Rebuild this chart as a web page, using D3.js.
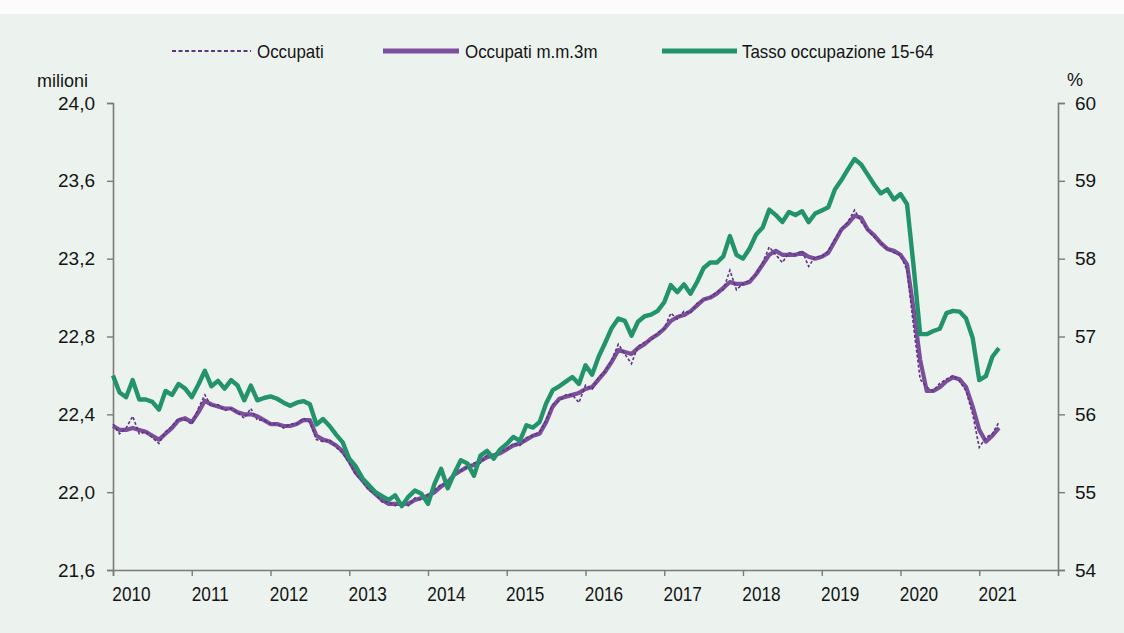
<!DOCTYPE html>
<html><head><meta charset="utf-8">
<script src="https://cdn.jsdelivr.net/npm/d3@7"></script>
<style>
body{margin:0;background:#ecf3ee}
svg{display:block}
text{font-family:"Liberation Sans",Arial,Helvetica,sans-serif;fill:#141414}
</style>
</head><body>
<svg id="c" width="1124" height="633"></svg>
<script>
// ---- data (monthly, Jan 2010 .. Apr 2021) ----
const yearLabels = ["2010","2011","2012","2013","2014","2015","2016","2017","2018","2019","2020","2021"];
const leftTicks = [21.6, 22.0, 22.4, 22.8, 23.2, 23.6, 24.0];
const rightTicks = [54, 55, 56, 57, 58, 59, 60];
const legendLabels = ["Occupati", "Occupati m.m.3m", "Tasso occupazione 15-64"];

const occupati = [
22.35,22.30,22.33,22.39,22.30,22.31,22.28,22.25,22.31,22.34,22.38,22.37,
22.35,22.43,22.50,22.44,22.45,22.42,22.43,22.41,22.38,22.43,22.37,22.37,
22.35,22.35,22.33,22.35,22.35,22.38,22.36,22.27,22.26,22.27,22.23,22.20,
22.15,22.09,22.06,22.01,21.99,21.95,21.95,21.93,21.95,21.93,21.97,21.96,
21.99,22.01,22.04,22.04,22.10,22.11,22.13,22.15,22.15,22.19,22.18,22.21,
22.22,22.25,22.24,22.28,22.29,22.31,22.37,22.45,22.47,22.50,22.50,22.46,
22.55,22.53,22.59,22.62,22.68,22.76,22.71,22.66,22.75,22.77,22.78,22.82,
22.84,22.92,22.89,22.93,22.92,22.97,22.99,23.00,23.03,23.04,23.14,23.04,
23.07,23.09,23.12,23.18,23.26,23.22,23.18,23.23,23.22,23.24,23.16,23.21,
23.21,23.24,23.30,23.35,23.39,23.45,23.39,23.35,23.31,23.28,23.25,23.23,
23.22,23.14,22.85,22.58,22.54,22.52,22.56,22.58,22.60,22.57,22.52,22.40,
22.23,22.28,22.30,22.36
];
const occupatiMM3 = [
22.34,22.32,22.32,22.33,22.32,22.31,22.29,22.27,22.30,22.33,22.37,22.38,
22.36,22.41,22.47,22.45,22.44,22.43,22.43,22.41,22.40,22.40,22.39,22.37,
22.35,22.35,22.34,22.34,22.35,22.37,22.37,22.29,22.27,22.26,22.24,22.21,
22.16,22.10,22.06,22.02,21.99,21.96,21.94,21.94,21.94,21.94,21.96,21.97,
21.98,22.00,22.03,22.05,22.09,22.11,22.13,22.14,22.16,22.18,22.19,22.20,
22.22,22.24,22.25,22.27,22.29,22.30,22.36,22.44,22.48,22.49,22.50,22.51,
22.53,22.54,22.58,22.62,22.67,22.73,22.72,22.71,22.74,22.76,22.79,22.81,
22.84,22.88,22.90,22.91,22.93,22.96,22.99,23.00,23.02,23.05,23.08,23.07,
23.07,23.08,23.12,23.17,23.22,23.24,23.22,23.22,23.22,23.23,23.21,23.20,
23.21,23.23,23.29,23.35,23.38,23.42,23.41,23.35,23.32,23.28,23.25,23.24,
23.22,23.17,22.94,22.68,22.52,22.52,22.54,22.57,22.59,22.58,22.54,22.44,
22.32,22.26,22.29,22.33
];
const tasso = [
56.50,56.28,56.22,56.44,56.19,56.19,56.16,56.06,56.30,56.25,56.39,56.33,
56.22,56.38,56.56,56.36,56.43,56.33,56.44,56.37,56.18,56.37,56.18,56.21,
56.23,56.20,56.15,56.11,56.15,56.17,56.13,55.87,55.94,55.85,55.74,55.64,
55.43,55.33,55.18,55.09,55.00,54.95,54.90,54.96,54.82,54.94,55.02,54.98,
54.85,55.11,55.30,55.05,55.24,55.41,55.37,55.21,55.47,55.53,55.43,55.55,
55.62,55.71,55.66,55.86,55.83,55.90,56.14,56.31,56.36,56.42,56.48,56.39,
56.63,56.51,56.74,56.92,57.11,57.23,57.20,57.01,57.19,57.26,57.28,57.33,
57.44,57.66,57.57,57.67,57.55,57.70,57.88,57.95,57.95,58.03,58.29,58.05,
58.00,58.13,58.31,58.40,58.63,58.56,58.47,58.60,58.56,58.61,58.47,58.58,
58.62,58.66,58.89,59.01,59.15,59.28,59.21,59.08,58.95,58.84,58.89,58.76,
58.83,58.70,57.90,57.03,57.03,57.07,57.10,57.30,57.33,57.32,57.23,56.98,
56.44,56.49,56.74,56.85
];

// ---- layout ----
const svg = d3.select("#c");
const W = 1124, H = 633;
const L = 113, R = 1058, T = 103, B = 570;
const regular = '"Liberation Sans", Arial, sans-serif';

svg.append("rect").attr("width", W).attr("height", H).attr("fill", "#ecf3ee");
svg.append("rect").attr("width", W).attr("height", 14).attr("fill", "#fbfcfb");

const x = d3.scaleLinear().domain([0, yearLabels.length * 12]).range([L, R]);
const yL = d3.scaleLinear().domain([leftTicks[0], leftTicks[leftTicks.length - 1]]).range([B, T]);
const yR = d3.scaleLinear().domain([rightTicks[0], rightTicks[rightTicks.length - 1]]).range([B, T]);

const itFmt = d3.formatLocale({decimal: ",", thousands: ".", grouping: [3], currency: ["", "€"]}).format(".1f");

// condense text horizontally (the original uses a narrow typeface)
function condense(sel, factor) {
  sel.each(function () {
    const w = this.getComputedTextLength();
    d3.select(this).attr("textLength", w * factor).attr("lengthAdjust", "spacingAndGlyphs");
  });
}

const axisColor = "#7a7a7a";
function styleAxis(g, size) {
  g.select(".domain").attr("stroke", axisColor).attr("stroke-width", 1.6);
  g.selectAll(".tick line").attr("stroke", axisColor).attr("stroke-width", 1.4);
  g.selectAll(".tick text").attr("font-size", size).attr("fill", "#141414").attr("font-family", regular);
}

svg.append("g").attr("transform", `translate(${L},0)`)
  .call(d3.axisLeft(yL).tickValues(leftTicks).tickFormat(itFmt).tickSizeOuter(0).tickSize(6).tickPadding(12))
  .call(styleAxis, 19);

svg.append("g").attr("transform", `translate(${R},0)`)
  .call(d3.axisRight(yR).tickValues(rightTicks).tickFormat(d3.format("d")).tickSizeOuter(0).tickSize(7).tickPadding(10))
  .call(styleAxis, 19);

const gx = svg.append("g").attr("transform", `translate(0,${B})`)
  .call(d3.axisBottom(x).tickValues(yearLabels.map((d, i) => i * 12))
    .tickFormat((d, i) => yearLabels[i]).tickSizeOuter(0).tickSize(6).tickPadding(10))
  .call(styleAxis, 21);
gx.selectAll(".tick text").attr("dx", 18).call(condense, 0.82);

svg.append("text").attr("x", 37).attr("y", 87).attr("font-size", 18).text("milioni");
svg.append("text").attr("x", 1067).attr("y", 86).attr("font-size", 18).text("%");

// ---- lines ----
const lineL = d3.line().x((d, i) => x(i)).y(d => yL(d));
const lineR = d3.line().x((d, i) => x(i)).y(d => yR(d));

const cMM3 = "#7b4f9b", cOcc = "#5e3580", cTasso = "#22936b";

svg.append("path").datum(occupatiMM3).attr("d", lineL)
  .attr("fill", "none").attr("stroke", cMM3).attr("stroke-width", 4.2).attr("stroke-linejoin", "round");
svg.append("path").datum(occupati).attr("d", lineL)
  .attr("fill", "none").attr("stroke", cOcc).attr("stroke-width", 1.6).attr("stroke-dasharray", "3,2");
svg.append("path").datum(tasso).attr("d", lineR)
  .attr("fill", "none").attr("stroke", cTasso).attr("stroke-width", 4.4).attr("stroke-linejoin", "round");

// ---- legend ----
const legY = 51;
const leg = [
  {x1: 172, x2: 251, tx: 257, stroke: cOcc, w: 2, dash: "4,2.5"},
  {x1: 383, x2: 459, tx: 465, stroke: cMM3, w: 5, dash: null},
  {x1: 662, x2: 737, tx: 742, stroke: cTasso, w: 5, dash: null}
];
leg.forEach((l, i) => {
  svg.append("line").attr("x1", l.x1).attr("x2", l.x2).attr("y1", legY).attr("y2", legY)
    .attr("stroke", l.stroke).attr("stroke-width", l.w).attr("stroke-dasharray", l.dash);
  svg.append("text").attr("x", l.tx).attr("y", legY + 7).attr("font-size", 19)
    .text(legendLabels[i]).call(condense, 0.89);
});
</script>
</body></html>
